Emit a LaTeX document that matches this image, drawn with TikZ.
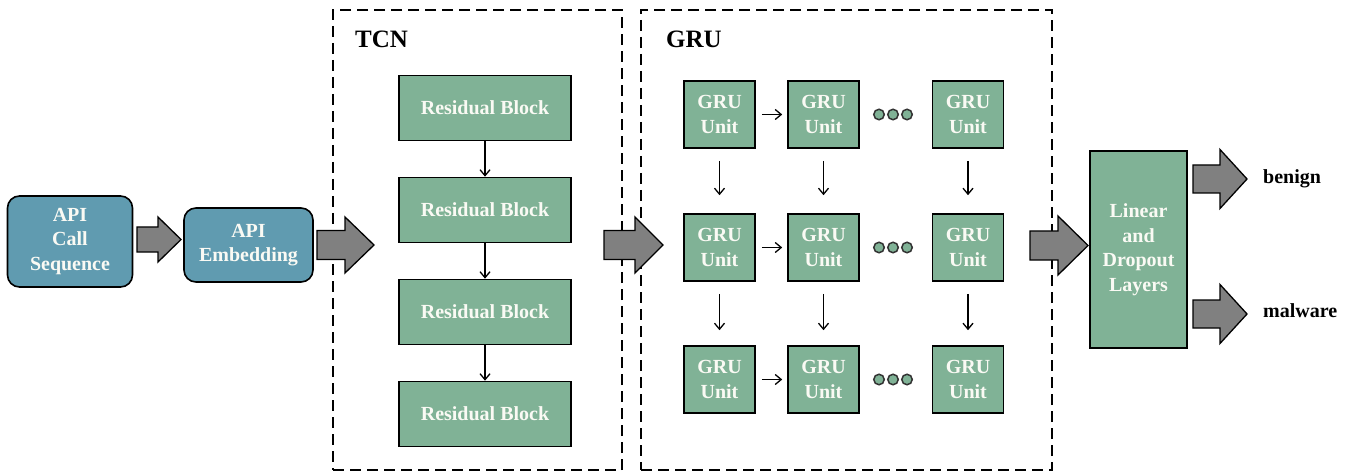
\documentclass[tikz,border=0pt]{standalone}
\usepackage{fontspec}
\setmainfont{Liberation Serif}
\usetikzlibrary{arrows.meta}
\definecolor{boxgreen}{RGB}{128,178,150}
\definecolor{boxblue}{RGB}{96,155,176}
\definecolor{arrgray}{RGB}{128,128,128}
\definecolor{txtwhite}{RGB}{250,250,244}
\newcommand{\blockarrow}[6]{%
  \draw[bigarrow] (#1,#4-#5) -- (#2,#4-#5) -- (#2,#4-#6) -- (#3,#4) -- (#2,#4+#6) -- (#2,#4+#5) -- (#1,#4+#5) -- cycle;}
\begin{document}
\begin{tikzpicture}[x=1pt,y=-1pt,
  boxtext/.style={text=txtwhite, font=\bfseries\fontsize{20}{24.5}\selectfont, align=center, inner sep=0pt},
  greenbox/.style={boxtext, draw=black, line width=1.6pt, fill=boxgreen},
  bluebox/.style={boxtext, draw=black, line width=1.6pt, fill=boxblue, rounded corners=12pt},
  resbox/.style={greenbox, minimum width=172pt, minimum height=65pt},
  gru/.style={greenbox, minimum width=71pt, minimum height=67pt},
  dashbox/.style={draw=black, line width=1.3pt, dash pattern=on 11pt off 6pt, inner sep=0pt},
  thinarrow/.style={draw=black, line width=1.3pt, -{Straight Barb[length=6pt,width=10pt]}},
  bigarrow/.style={draw=black, line width=1.3pt, fill=arrgray, line join=miter},
  dotc/.style={circle, draw=black!80, line width=1.5pt, fill=boxgreen, minimum size=10.5pt, inner sep=0pt},
  title/.style={font=\bfseries\fontsize{25}{30}\selectfont, inner sep=0pt},
  outlabel/.style={font=\bfseries\fontsize{20}{24}\selectfont, inner sep=0pt, anchor=base west}
]
\useasboundingbox (0,0) rectangle (1352,473);

% dashed containers
\node[dashbox, minimum width=289pt, minimum height=460pt] (tcnbox) at (477.5,240) {};
\node[dashbox, minimum width=411pt, minimum height=460pt] (grubox) at (846.5,240) {};
\node[title] (tcnlabel) at (381.5,39) {TCN};
\node[title] (grulabel) at (694,39) {GRU};

% input boxes
\node[bluebox, minimum width=125pt, minimum height=91pt] (seq) at (70,241.5) {API\\Call\\Sequence};
\node[bluebox, minimum width=129pt, minimum height=74pt] (emb) at (248.5,245) {API\\Embedding};

% residual blocks
\node[resbox] (rb1) at (485,108) {Residual Block};
\node[resbox] (rb2) at (485,210) {Residual Block};
\node[resbox] (rb3) at (485,312) {Residual Block};
\node[resbox] (rb4) at (485,414) {Residual Block};
\draw[thinarrow] (rb1.south) -- (rb2.north);
\draw[thinarrow] (rb2.south) -- (rb3.north);
\draw[thinarrow] (rb3.south) -- (rb4.north);

% GRU grid
\foreach \r/\y in {1/114.5, 2/247.5, 3/379.5}{
  \node[gru] (g\r1) at (719.5,\y) {GRU\\Unit};
  \node[gru] (g\r2) at (823.5,\y) {GRU\\Unit};
  \node[gru] (g\r3) at (968,\y) {GRU\\Unit};
  \node[dotc] (d\r1) at (879,\y) {};
  \node[dotc] (d\r2) at (893,\y) {};
  \node[dotc] (d\r3) at (907,\y) {};
  \draw[thinarrow, shorten <=6pt, shorten >=5pt] (g\r1.east) -- (g\r2.west);
}
\foreach \c in {1,2,3}{
  \draw[thinarrow, shorten <=12pt, shorten >=18pt] (g1\c.south) -- (g2\c.north);
  \draw[thinarrow, shorten <=12pt, shorten >=15pt] (g2\c.south) -- (g3\c.north);
}

% classifier
\node[greenbox, minimum width=97pt, minimum height=197pt] (lin) at (1138.5,249.5) {Linear\\and\\Dropout\\Layers};
\node[outlabel] (benign) at (1263,184) {benign};
\node[outlabel] (malware) at (1263,317) {malware};

% block arrows
\blockarrow{137}{158}{181}{239.5}{12.5}{22.5}
\blockarrow{317}{345}{374}{245}{14.5}{28}
\blockarrow{604}{635}{663}{245}{14.5}{28}
\blockarrow{1030}{1058}{1088}{245.5}{14.5}{29.5}
\blockarrow{1193}{1220}{1247}{179}{14}{29.5}
\blockarrow{1193}{1220}{1247}{314}{14}{29.5}
\end{tikzpicture}
\end{document}
